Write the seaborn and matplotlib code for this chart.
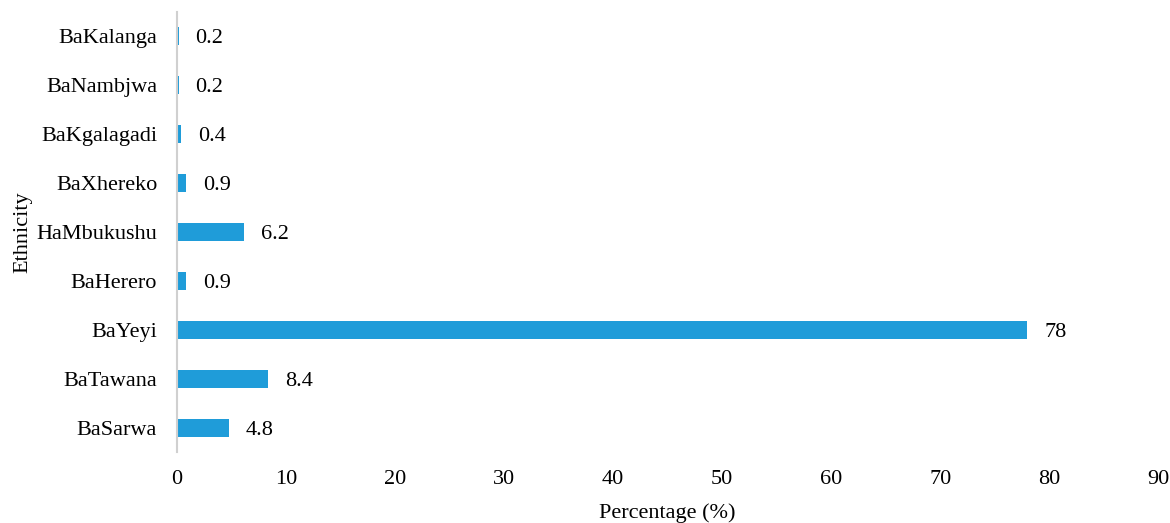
import matplotlib
matplotlib.use("Agg")
import matplotlib.pyplot as plt
import seaborn as sns
import pandas as pd

ethnicities = ["BaKalanga", "BaNambjwa", "BaKgalagadi", "BaXhereko", "HaMbukushu",
               "BaHerero", "BaYeyi", "BaTawana", "BaSarwa"]
percentages = [0.2, 0.2, 0.4, 0.9, 6.2, 0.9, 78, 8.4, 4.8]
value_labels = ["0.2", "0.2", "0.4", "0.9", "6.2", "0.9", "78", "8.4", "4.8"]
x_ticks = [0, 10, 20, 30, 40, 50, 60, 70, 80, 90]

sns.set_theme(style="white")
plt.rcParams['font.family'] = ['Liberation Serif', 'DejaVu Serif']

df = pd.DataFrame({"Ethnicity": ethnicities, "Percentage": percentages})

fig = plt.figure(figsize=(11.7, 5.23), dpi=100)
ax = fig.add_axes([0.151, 0.135, 0.839, 0.843])
sns.barplot(data=df, y="Ethnicity", x="Percentage", order=ethnicities,
            color="#1f9cd9", saturation=1, width=0.37, ax=ax, orient="h",
            linewidth=0)

for i, (v, lab) in enumerate(zip(percentages, value_labels)):
    ax.annotate(lab, xy=(v, i), xytext=(12, 0), textcoords="offset points",
                ha="left", va="center_baseline", fontsize=16, color="#000000")

ax.set_xlim(0, 90)
ax.set_ylim(8.5, -0.5)
ax.set_xticks(x_ticks)
ax.set_xticklabels([str(t) for t in x_ticks])
ax.tick_params(axis="x", length=0, pad=13, labelsize=16, colors="#000000")
ax.tick_params(axis="y", length=0, pad=14, labelsize=16, colors="#000000")
for s in ["top", "right", "bottom"]:
    ax.spines[s].set_visible(False)
ax.spines["left"].set_color("#d0d0d0")
ax.spines["left"].set_linewidth(1.5)
ax.set_xlabel("Percentage (%)", fontsize=16, color="#000000", labelpad=10)
ax.set_ylabel("Ethnicity", fontsize=16, color="#000000", labelpad=10)
ax.yaxis.set_label_coords(-0.147, 0.5)
ax.grid(False)

fig.savefig("out.png", dpi=100)
